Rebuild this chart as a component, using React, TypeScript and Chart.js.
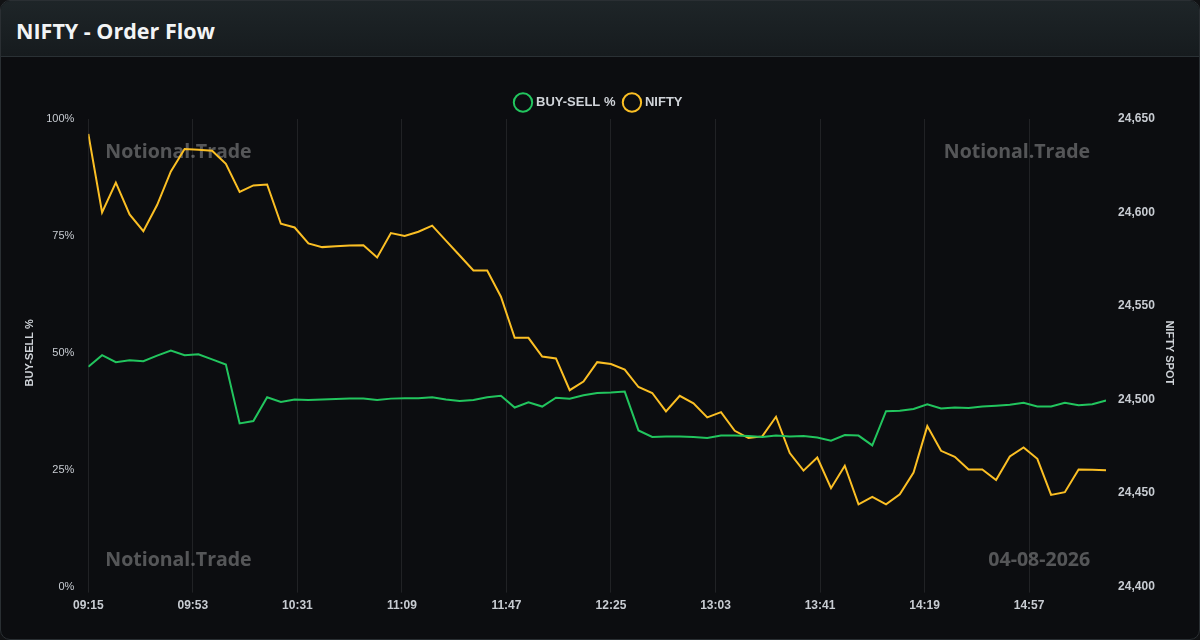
import React, { useEffect, useRef } from "react";
import { Chart, registerables } from "chart.js";

Chart.register(...registerables);

const TIMES: string[] = [
  "09:15","09:20","09:25","09:30","09:35","09:40","09:45","09:50","09:55","10:00",
  "10:05","10:10","10:15","10:20","10:25","10:30","10:35","10:40","10:45","10:50",
  "10:55","11:00","11:05","11:10","11:15","11:20","11:25","11:30","11:35","11:40",
  "11:45","11:50","11:55","12:00","12:05","12:10","12:15","12:20","12:25","12:30",
  "12:35","12:40","12:45","12:50","12:55","13:00","13:05","13:10","13:15","13:20",
  "13:25","13:30","13:35","13:40","13:45","13:50","13:55","14:00","14:05","14:10",
  "14:15","14:20","14:25","14:30","14:35","14:40","14:45","14:50","14:55","15:00",
  "15:05","15:10","15:15","15:20","15:25",
];

const BUY_SELL: number[] = [
  47.0, 49.5, 48.0, 48.4, 48.2, 49.4, 50.5, 49.5, 49.7, 48.6,
  47.5, 34.9, 35.4, 40.5, 39.5, 40.0, 39.9, 40.0, 40.1, 40.2,
  40.2, 39.9, 40.2, 40.3, 40.3, 40.5, 40.0, 39.7, 39.9, 40.5,
  40.8, 38.3, 39.4, 38.5, 40.4, 40.2, 40.9, 41.4, 41.5, 41.7,
  33.4, 32.0, 32.1, 32.1, 32.0, 31.8, 32.3, 32.3, 32.2, 32.0,
  32.3, 32.1, 32.2, 31.9, 31.2, 32.4, 32.3, 30.2, 37.5, 37.6,
  38.0, 39.0, 38.1, 38.3, 38.2, 38.5, 38.7, 38.9, 39.3, 38.5,
  38.5, 39.3, 38.8, 39.0, 39.8,
];

const NIFTY: number[] = [
  24642, 24600, 24616, 24599, 24590, 24604, 24622, 24634, 24633.6, 24633,
  24626, 24611, 24614.5, 24615, 24594, 24592, 24583.5, 24581.5, 24582, 24582.4,
  24582.5, 24576, 24589, 24587.5, 24589.7, 24593, 24585, 24577, 24569, 24569,
  24555, 24533, 24533, 24523, 24522, 24505, 24509.6, 24520, 24519, 24516,
  24506.7, 24503.5, 24493.7, 24502, 24498, 24490.5, 24493.3, 24483.3, 24479.4, 24480.3,
  24490.8, 24471.4, 24462, 24469, 24452.6, 24464.6, 24444, 24448, 24444, 24449.4,
  24461, 24485.8, 24472.6, 24469.4, 24462.6, 24462.6, 24457, 24469.6, 24474.4, 24468.3,
  24449, 24450.5, 24462.6, 24462.5, 24462.2,
];

const X_TICK_STEP_MIN = 38;
const LEFT_TICKS = [0, 25, 50, 75, 100];
const RIGHT_TICKS = [24400, 24450, 24500, 24550, 24600, 24650];
const WATERMARK = "Notional.Trade";
const DATE_LABEL = "04-08-2026";

const toMin = (t: string) => {
  const [h, m] = t.split(":").map(Number);
  return h * 60 + m;
};
const START = toMin(TIMES[0]);
const fmt = (v: number) => {
  const t = START + v;
  const h = Math.floor(t / 60);
  const m = t % 60;
  return `${String(h).padStart(2, "0")}:${String(m).padStart(2, "0")}`;
};

const FONT = "'Liberation Sans', Arial, sans-serif";

const watermarkPlugin = {
  id: "watermarks",
  beforeDatasetsDraw(chart: any) {
    const { ctx, chartArea } = chart;
    ctx.save();
    ctx.font = "bold 19.5px 'Open Sans'";
    ctx.fillStyle = "rgba(255,255,255,0.3)";
    ctx.textBaseline = "middle";
    const topY = chartArea.top + 33;
    const botY = chartArea.bottom - 26;
    ctx.textAlign = "left";
    ctx.fillText(WATERMARK, chartArea.left + 17, topY);
    ctx.fillText(WATERMARK, chartArea.left + 17, botY);
    ctx.textAlign = "right";
    ctx.fillText(WATERMARK, chartArea.right - 16, topY);
    ctx.fillText(DATE_LABEL, chartArea.right - 16, botY);
    ctx.restore();
  },
};

export default function App() {
  const ref = useRef<HTMLCanvasElement | null>(null);

  useEffect(() => {
    document.body.style.margin = "0";
    document.body.style.background = "#111214";
    if (!ref.current) return;
    const xs = TIMES.map((t) => toMin(t) - START);
    const tickColor = "#c8ccd2";
    const chart = new Chart(ref.current, {
      type: "line",
      data: {
        datasets: [
          {
            label: "BUY-SELL %",
            data: xs.map((x, i) => ({ x, y: BUY_SELL[i] })),
            borderColor: "#22c55e",
            backgroundColor: "rgba(0,0,0,0)",
            borderWidth: 2,
            pointRadius: 0,
            tension: 0,
            yAxisID: "y",
          },
          {
            label: "NIFTY",
            data: xs.map((x, i) => ({ x, y: NIFTY[i] })),
            borderColor: "#fbbf24",
            backgroundColor: "rgba(0,0,0,0)",
            borderWidth: 2,
            pointRadius: 0,
            tension: 0,
            yAxisID: "y1",
          },
        ],
      },
      options: {
        animation: false,
        responsive: true,
        maintainAspectRatio: false,
        layout: { padding: { left: 18, right: 19, top: 29, bottom: 20 } },
        plugins: {
          legend: {
            position: "top",
            labels: {
              usePointStyle: true,
              pointStyle: "circle",
              boxWidth: 13,
              boxHeight: 13,
              padding: 10,
              color: "#cfd3d8",
              font: { size: 13, weight: "bold", family: FONT },
            },
          },
          tooltip: { enabled: false },
        },
        scales: {
          x: {
            type: "linear",
            min: 0,
            max: xs[xs.length - 1],
            afterBuildTicks: (axis: any) => {
              const ticks = [];
              for (let v = 0; v <= xs[xs.length - 1]; v += X_TICK_STEP_MIN) ticks.push({ value: v });
              axis.ticks = ticks;
            },
            ticks: {
              color: tickColor,
              font: { size: 12, weight: "bold", family: FONT },
              callback: (v: any) => fmt(Number(v)),
              maxRotation: 0,
              autoSkip: false,
              padding: 6,
            },
            grid: { color: "rgba(255,255,255,0.09)", lineWidth: 1, tickLength: 6 },
            border: { display: false },
          },
          y: {
            type: "linear",
            position: "left",
            min: 0,
            max: 100,
            afterBuildTicks: (axis: any) => {
              axis.ticks = LEFT_TICKS.map((value) => ({ value }));
            },
            ticks: {
              color: tickColor,
              font: { size: 11, family: FONT },
              callback: (v: any) => `${v}%`,
              padding: 6,
            },
            grid: { display: false },
            border: { display: false },
            title: {
              display: true,
              text: "BUY-SELL %",
              color: "#cfd3d8",
              font: { size: 11, weight: "bold", family: FONT },
            },
          },
          y1: {
            type: "linear",
            position: "right",
            min: 24400,
            max: 24650,
            afterBuildTicks: (axis: any) => {
              axis.ticks = RIGHT_TICKS.map((value) => ({ value }));
            },
            ticks: {
              color: tickColor,
              font: { size: 12, weight: "bold", family: FONT },
              callback: (v: any) => Number(v).toLocaleString("en-US"),
              padding: 4,
            },
            grid: { display: false },
            border: { display: false },
            title: {
              display: true,
              text: "NIFTY SPOT",
              color: "#cfd3d8",
              font: { size: 11, weight: "bold", family: FONT },
            },
          },
        },
      },
      plugins: [watermarkPlugin],
    } as any);
    return () => chart.destroy();
  }, []);

  return (
    <div
      style={{
        position: "fixed",
        left: 0,
        top: 0,
        width: 1200,
        height: 640,
        boxSizing: "border-box",
        borderRadius: 10,
        border: "1px solid #2a2f33",
        background: "#0c0d10",
        overflow: "hidden",
      }}
    >
      <div
        style={{
          height: 56,
          boxSizing: "border-box",
          background: "linear-gradient(180deg, #1e2528 0%, #161b1e 100%)",
          borderBottom: "1px solid #2a3135",
          display: "flex",
          alignItems: "center",
          paddingLeft: 15,
          paddingTop: 3,
          fontFamily: "'Open Sans', sans-serif",
          fontWeight: 700,
          fontSize: 21.5,
          color: "#f2f4f5",
        }}
      >
        NIFTY - Order Flow
      </div>
      <div style={{ position: "absolute", left: 0, top: 56, width: 1198, height: 582 }}>
        <canvas ref={ref} />
      </div>
    </div>
  );
}
